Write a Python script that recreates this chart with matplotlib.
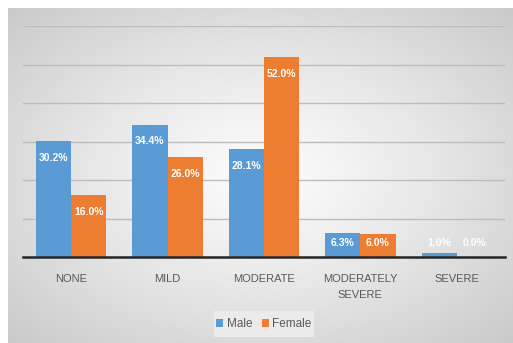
import numpy as np
import matplotlib
matplotlib.use("Agg")
import matplotlib.pyplot as plt
from matplotlib.patches import Rectangle

plt.rcParams['font.family'] = ['Liberation Sans Narrow', 'Liberation Sans', 'DejaVu Sans']

categories = ["NONE", "MILD", "MODERATE", "MODERATELY\nSEVERE", "SEVERE"]
male = [30.2, 34.4, 28.1, 6.3, 1.0]
female = [16.0, 26.0, 52.0, 6.0, 0.0]

blue = "#5b9bd5"
orange = "#ed7d31"

W, H = 513, 343
fig = plt.figure(figsize=(W / 100, H / 100), dpi=100)
fig.patch.set_facecolor("white")

# radial background, light in the middle, gray at the edges
bg = fig.add_axes([8 / W, 0, 1 - 8 / W, 1 - 8 / H])
bg.set_axis_off()
gx, gy = np.meshgrid(np.linspace(-1, 1, 400), np.linspace(-1, 1, 300))
r = np.clip(np.sqrt(gx ** 2 + gy ** 2) / np.sqrt(2), 0, 1)
shade = 0.99 - 0.2 * r ** 1.2
bg.imshow(np.dstack([shade] * 3), aspect="auto", extent=[0, 1, 0, 1])
bg.set_xlim(0, 1)
bg.set_ylim(0, 1)

ax = fig.add_axes([23 / W, (H - 257) / H, (505 - 23) / W, (257 - 26) / H])
ax.patch.set_alpha(0)

x = np.arange(len(categories))
w = 0.365
ax.bar(x - w / 2, male, w, color=blue, label="Male", zorder=3)
ax.bar(x + w / 2, female, w, color=orange, label="Female", zorder=3)

for xs, vals in ((x - w / 2, male), (x + w / 2, female)):
    for xi, v in zip(xs, vals):
        ax.text(xi, max(v - 4.4, 3.6), f"{v:.1f}%", ha="center", va="center",
                color="white", fontsize=7.5, fontweight="bold", zorder=4)

ax.set_xlim(-0.5, len(categories) - 0.5)
ax.set_ylim(0, 60)
ax.set_yticks(np.arange(0, 61, 10))
ax.yaxis.grid(True, color="#bdbdbd", linewidth=1.0, zorder=0)
ax.tick_params(axis="y", left=False, labelleft=False)
ax.tick_params(axis="x", bottom=False, pad=9, labelsize=8, labelcolor="#595959")
ax.set_xticks(x)
ax.set_xticklabels(categories, linespacing=1.7)
for s in ("top", "right", "left"):
    ax.spines[s].set_visible(False)
ax.spines["bottom"].set_color("#262626")
ax.spines["bottom"].set_linewidth(1.8)
ax.spines["bottom"].set_zorder(5)

# legend panel
fig.patches.append(Rectangle((214 / W, (H - 337) / H), 100 / W, 26 / H,
                             transform=fig.transFigure, facecolor="#ededed",
                             edgecolor="none", alpha=0.85))
leg = fig.legend(loc="center", bbox_to_anchor=(264 / W, (H - 324) / H), ncol=2,
                 frameon=False, fontsize=8.5, handlelength=0.6, handleheight=0.6,
                 handletextpad=0.3, columnspacing=0.8)
for t in leg.get_texts():
    t.set_color("#595959")

fig.savefig("out.png", dpi=100)
